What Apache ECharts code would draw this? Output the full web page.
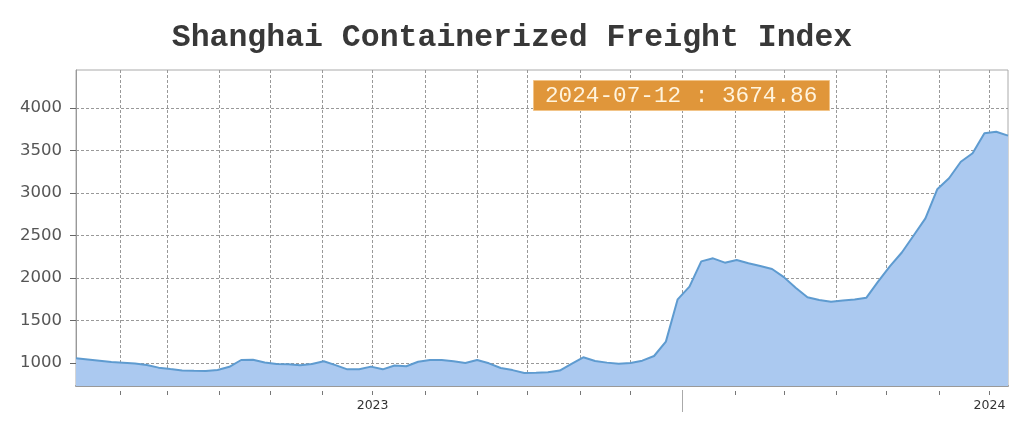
<!DOCTYPE html>
<html>
<head>
<meta charset="utf-8">
<script src="https://cdn.jsdelivr.net/npm/echarts@6/dist/echarts.min.js"></script>
<style>
html,body{margin:0;padding:0;background:#fff;}
#chart{width:1024px;height:442px;}
</style>
</head>
<body>
<div id="chart"></div>
<script>
const titleText = 'Shanghai Containerized Freight Index';

const dates = [
 '2023-01-06','2023-01-13','2023-01-20','2023-01-27','2023-02-03','2023-02-10','2023-02-17','2023-02-24',
 '2023-03-03','2023-03-10','2023-03-17','2023-03-24','2023-03-31','2023-04-07','2023-04-14','2023-04-21',
 '2023-04-28','2023-05-05','2023-05-12','2023-05-19','2023-05-26','2023-06-02','2023-06-09','2023-06-16',
 '2023-06-23','2023-06-30','2023-07-07','2023-07-14','2023-07-21','2023-07-28','2023-08-04','2023-08-11',
 '2023-08-18','2023-08-25','2023-09-01','2023-09-08','2023-09-15','2023-09-22','2023-09-29','2023-10-06',
 '2023-10-13','2023-10-20','2023-10-27','2023-11-03','2023-11-10','2023-11-17','2023-11-24','2023-12-01',
 '2023-12-08','2023-12-15','2023-12-22','2023-12-29','2024-01-05','2024-01-12','2024-01-19','2024-01-26',
 '2024-02-02','2024-02-09','2024-02-16','2024-02-23','2024-03-01','2024-03-08','2024-03-15','2024-03-22',
 '2024-03-29','2024-04-05','2024-04-12','2024-04-19','2024-04-26','2024-05-03','2024-05-10','2024-05-17',
 '2024-05-24','2024-05-31','2024-06-07','2024-06-14','2024-06-21','2024-06-28','2024-07-05','2024-07-12'
];

const values = [
 1055,1040,1025,1010,1004,995,975,945,
 928,912,908,906,918,955,1035,1037,
 1005,988,985,972,988,1020,975,925,
 925,957,925,970,962,1015,1035,1035,
 1020,1000,1035,996,941,916,882,886,
 892,910,990,1067,1024,1004,992,1000,
 1027,1082,1251,1749,1898,2195,2231,2180,
 2212,2173,2141,2106,2010,1885,1773,1741,
 1721,1735,1748,1768,1960,2140,2300,2500,
 2702,3043,3173,3368,3467,3702,3721,3674.86
];

const yTicks = [1000,1500,2000,2500,3000,3500,4000];

const monthTicks = [
 '2023-02-01','2023-03-01','2023-04-01','2023-05-01','2023-06-01','2023-07-01','2023-08-01','2023-09-01',
 '2023-10-01','2023-11-01','2023-12-01','2024-01-01','2024-02-01','2024-03-01','2024-04-01','2024-05-01',
 '2024-06-01','2024-07-01'
];
const yearLabelTicks = ['2023-07-01','2024-07-01'];
const yearTicks = ['2024-01-01'];

const ts = s => { const p = s.split('-').map(Number); return Date.UTC(p[0], p[1]-1, p[2]); };

const seriesData = dates.map((d, i) => [ts(d), values[i]]);
const lastLabel = dates[dates.length-1] + ' : ' + values[values.length-1].toFixed(2);

const chart = echarts.init(document.getElementById('chart'), null, {renderer:'canvas'});
const xMin = ts(dates[0]), xMax = ts(dates[dates.length-1]);

chart.setOption({
  animation: false,
  backgroundColor: '#fff',
  title: [{
    text: titleText,
    left: 'center',
    top: 17,
    textStyle: {fontFamily: 'Liberation Mono', fontWeight: 'bold', fontSize: 31.5, color: '#383838'}
  }, {
    text: lastLabel,
    left: 533,
    top: 80,
    padding: [4, 12, 4, 12],
    backgroundColor: '#E0963A',
    borderColor: '#F2C488',
    borderWidth: 1,
    textStyle: {fontFamily: 'Liberation Mono', fontWeight: 'normal', fontSize: 22.7, color: '#FFF4DE', lineHeight: 23}
  }],
  grid: {left: 76, right: 16, top: 70, bottom: 56, show: true, borderColor: '#aaa', borderWidth: 1, containLabel: false},
  xAxis: [{
    type: 'value',
    min: xMin, max: xMax,
    axisLine: {show: true, lineStyle: {color: '#999', width: 2}},
    axisTick: {show: true, length: 9, customValues: monthTicks.map(ts),
      lineStyle: {color: '#777', width: 1, type: [4, 5], dashOffset: 4}},
    axisLabel: {show: true, customValues: yearLabelTicks.map(ts), margin: 13,
      fontFamily: 'DejaVu Sans', fontSize: 12.5, color: '#333',
      formatter: v => String(new Date(v).getUTCFullYear())},
    splitLine: {show: true, lineStyle: {color: '#999', width: 1, type: [3, 2]}}
  }, {
    type: 'value',
    position: 'bottom',
    min: xMin, max: xMax,
    axisLine: {show: false},
    axisLabel: {show: false},
    splitLine: {show: false},
    axisTick: {show: true, length: 26, customValues: yearTicks.map(ts),
      lineStyle: {color: '#aaa', width: 1, type: [22, 4], dashOffset: 22}}
  }],
  yAxis: {
    type: 'value',
    min: 729, max: 4447,
    axisLine: {show: true, lineStyle: {color: '#999', width: 1}},
    axisTick: {show: true, length: 6, customValues: yTicks,
      lineStyle: {color: '#666', width: 1, type: 'solid'}},
    axisLabel: {customValues: yTicks, margin: 14, fontFamily: 'DejaVu Sans', fontSize: 16.5, color: '#555',
      formatter: v => String(v)},
    splitLine: {show: true, lineStyle: {color: '#999', width: 1, type: [3, 2]}}
  },
  series: [{
    type: 'line',
    data: seriesData,
    symbol: 'none',
    lineStyle: {color: '#5E9BD0', width: 2},
    areaStyle: {color: '#ABC9F0', opacity: 1},
    z: 1
  }]
});
</script>
</body>
</html>
